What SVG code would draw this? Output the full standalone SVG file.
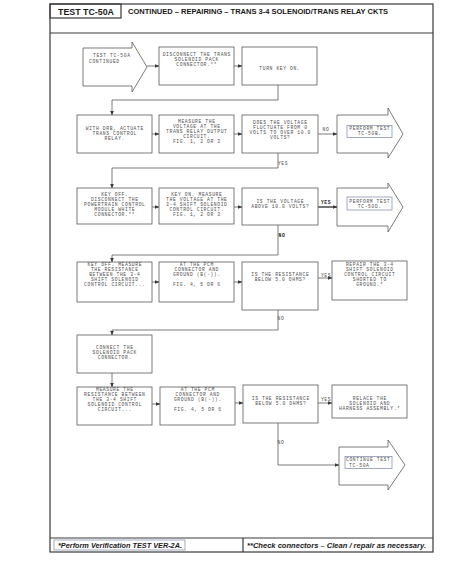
<svg xmlns="http://www.w3.org/2000/svg" width="467" height="570" viewBox="0 0 467 570">
<style>
.frame{fill:none;stroke:#3a3a3a;stroke-width:1.2}
.box{fill:#fff;stroke:#5a5a5a;stroke-width:0.8}
.arr{fill:#fff;stroke:#5a5a5a;stroke-width:0.8}
.hl{fill:none;stroke:#7d86a6;stroke-width:0.7}
.t{font-family:"Liberation Mono","DejaVu Sans Mono",monospace;font-size:4.7px;letter-spacing:0.6px;fill:#505050;text-anchor:middle}
.ts{font-family:"Liberation Mono","DejaVu Sans Mono",monospace;font-size:4.7px;letter-spacing:0.6px;fill:#505050}
.lbl{font-family:"Liberation Mono","DejaVu Sans Mono",monospace;font-size:4.7px;letter-spacing:0.6px;fill:#505050;text-anchor:middle}
.lblb{font-family:"Liberation Mono","DejaVu Sans Mono",monospace;font-size:4.7px;letter-spacing:0.6px;fill:#222;font-weight:bold;text-anchor:middle}
.hd{font-family:"Liberation Sans",Arial,sans-serif;font-weight:bold;fill:#1a1a1a}
.ft{font-family:"Liberation Sans",Arial,sans-serif;font-weight:bold;font-style:italic;font-size:7px;fill:#1a1a1a}
.c{fill:none;stroke:#5a5a5a;stroke-width:0.8;marker-end:url(#ah)}
.cb{fill:none;stroke:#2a2a2a;stroke-width:1.3;marker-end:url(#ah)}
</style>
<defs>
<marker id="ah" markerWidth="5" markerHeight="4" refX="4.5" refY="2" orient="auto" markerUnits="userSpaceOnUse">
<path d="M0,0 L5,2 L0,4 Z" fill="#3a3a3a"/>
</marker>
</defs>
<rect width="467" height="570" fill="#fff"/>

<g id="frame">
<rect class="frame" x="50" y="4" width="383" height="548"/>
<rect class="frame" x="50" y="4" width="71" height="14"/>
<line class="frame" x1="50" y1="33" x2="433" y2="33"/>
<line class="frame" x1="50" y1="538" x2="433" y2="538"/>
<line class="frame" x1="243" y1="538" x2="243" y2="552"/>
<text class="hd" x="58" y="15" font-size="9" textLength="56" lengthAdjust="spacingAndGlyphs">TEST TC-50A</text>
<text class="hd" x="128" y="13.5" font-size="7" textLength="260" lengthAdjust="spacingAndGlyphs">CONTINUED – REPAIRING – TRANS 3-4 SOLENOID/TRANS RELAY CKTS</text>
<rect class="hl" x="54" y="540" width="131" height="10"/>
<text class="ft" x="58" y="548" textLength="124" lengthAdjust="spacingAndGlyphs">*Perform Verification TEST VER-2A.</text>
<text class="ft" x="247" y="548" textLength="179" lengthAdjust="spacingAndGlyphs">**Check connectors – Clean / repair as necessary.</text>
</g>

<g id="connectors">
<line class="c" x1="147" y1="66" x2="159" y2="66"/>
<line class="c" x1="234" y1="66" x2="242" y2="66"/>
<polyline class="c" points="278,85 278,100 112,100 112,115"/>
<line class="c" x1="152" y1="134" x2="159" y2="134"/>
<line class="c" x1="234" y1="134" x2="242" y2="134"/>
<line class="c" x1="318" y1="134" x2="337" y2="134"/>
<polyline class="c" points="278,153 278,168 112,168 112,188"/>
<line class="c" x1="152" y1="207" x2="159" y2="207"/>
<line class="c" x1="234" y1="207" x2="242" y2="207"/>
<line class="cb" x1="318" y1="207" x2="337" y2="207"/>
<polyline class="c" points="278,225 278,255 112,255 112,262"/>
<line class="c" x1="152" y1="282" x2="159" y2="282"/>
<line class="c" x1="234" y1="282" x2="242" y2="282"/>
<line class="c" x1="318" y1="278" x2="332" y2="278"/>
<polyline class="c" points="278,310 278,330 112,330 112,335"/>
<line class="c" x1="112" y1="373" x2="112" y2="387"/>
<line class="c" x1="152" y1="404" x2="160" y2="404"/>
<line class="c" x1="235" y1="403" x2="243" y2="403"/>
<line class="c" x1="318" y1="403" x2="332" y2="403"/>
<polyline class="c" points="278,423 278,465 339,465"/>
<text class="lbl" x="326" y="131">NO</text>
<text class="lbl" x="283" y="165">YES</text>
<text class="lblb" x="326" y="204">YES</text>
<text class="lblb" x="282" y="237">NO</text>
<text class="lbl" x="326" y="277">YES</text>
<text class="lbl" x="281" y="320">NO</text>
<text class="lbl" x="326" y="401">YES</text>
<text class="lbl" x="281" y="444">NO</text>
</g>

<g id="n-start">
<polygon class="arr" points="83,48 132,48 132,42 147,67 132,92 132,86 83,86"/>
<text class="ts" x="93" y="56.5">TEST TC-50A</text>
<text class="ts" x="89" y="62.5">CONTINUED</text>
</g>
<g id="n-disconnect">
<rect class="box" x="159" y="47" width="75" height="38"/>
<text class="t" x="196.8" y="56.1">DISCONNECT THE TRANS</text>
<text class="t" x="196.8" y="61.1">SOLENOID PACK</text>
<text class="t" x="196.8" y="66.1">CONNECTOR.**</text>
</g>
<g id="n-keyon">
<rect class="box" x="242" y="47" width="75" height="38"/>
<text class="t" x="279.8" y="69.5">TURN KEY ON.</text>
</g>

<g id="n-actuate">
<rect class="box" x="77" y="115" width="75" height="38"/>
<text class="t" x="114.8" y="130.1">WITH DRB, ACTUATE</text>
<text class="t" x="114.8" y="135.1">TRANS CONTROL</text>
<text class="t" x="114.8" y="140.1">RELAY.</text>
</g>
<g id="n-measure1">
<rect class="box" x="159" y="115" width="75" height="38"/>
<text class="t" x="196.8" y="123.4">MEASURE THE</text>
<text class="t" x="196.8" y="128.4">VOLTAGE AT THE</text>
<text class="t" x="196.8" y="133.4">TRANS RELAY OUTPUT</text>
<text class="t" x="196.8" y="138.4">CIRCUIT.</text>
<text class="t" x="196.8" y="143.4">FIG. 1, 2 OR 3</text>
</g>
<g id="n-fluct">
<rect class="box" x="242" y="115" width="76" height="38"/>
<text class="t" x="280.3" y="123.8">DOES THE VOLTAGE</text>
<text class="t" x="280.3" y="128.8">FLUCTUATE FROM 0</text>
<text class="t" x="280.3" y="133.8">VOLTS TO OVER 10.0</text>
<text class="t" x="280.3" y="138.8">VOLTS?</text>
</g>
<g id="n-tc50b">
<polygon class="arr" points="337,115 388,115 388,108 403,134 388,158 388,153 337,153"/>
<rect class="hl" x="347" y="125.5" width="45" height="12"/>
<text class="t" x="369.8" y="130.4">PERFORM TEST</text>
<text class="t" x="369.8" y="135.4">TC-50B.</text>
</g>

<g id="n-keyoff1">
<rect class="box" x="77" y="188" width="75" height="36"/>
<text class="t" x="114.8" y="195.6">KEY OFF.</text>
<text class="t" x="114.8" y="200.6">DISCONNECT THE</text>
<text class="t" x="114.8" y="205.6">POWERTRAIN CONTROL</text>
<text class="t" x="114.8" y="210.6">MODULE WHITE</text>
<text class="t" x="114.8" y="215.6">CONNECTOR.**</text>
</g>
<g id="n-measure2">
<rect class="box" x="159" y="188" width="75" height="36"/>
<text class="t" x="196.8" y="195.6">KEY ON. MEASURE</text>
<text class="t" x="196.8" y="200.6">THE VOLTAGE AT THE</text>
<text class="t" x="196.8" y="205.6">3-4 SHIFT SOLENOID</text>
<text class="t" x="196.8" y="210.6">CONTROL CIRCUIT.</text>
<text class="t" x="196.8" y="215.6">FIG. 1, 2 OR 3</text>
</g>
<g id="n-above10">
<rect class="box" x="242" y="188" width="76" height="37"/>
<text class="t" x="280.3" y="203">IS THE VOLTAGE</text>
<text class="t" x="280.3" y="208">ABOVE 10.0 VOLTS?</text>
</g>
<g id="n-tc50d">
<polygon class="arr" points="337,188 388,188 388,183 403,207 388,232 388,226 337,226"/>
<rect class="hl" x="347" y="197" width="45" height="13"/>
<text class="t" x="369.8" y="202.9">PERFORM TEST</text>
<text class="t" x="369.8" y="207.9">TC-50D.</text>
</g>

<g id="n-keyoff2">
<rect class="box" x="77" y="262" width="75" height="40"/>
<text class="t" x="114.8" y="265.8">KEY OFF. MEASURE</text>
<text class="t" x="114.8" y="270.8">THE RESISTANCE</text>
<text class="t" x="114.8" y="275.8">BETWEEN THE 3-4</text>
<text class="t" x="114.8" y="280.8">SHIFT SOLENOID</text>
<text class="t" x="114.8" y="285.8">CONTROL CIRCUIT...</text>
</g>
<g id="n-pcm1">
<rect class="box" x="159" y="262" width="75" height="40"/>
<text class="t" x="196.8" y="265.8">AT THE PCM</text>
<text class="t" x="196.8" y="270.8">CONNECTOR AND</text>
<text class="t" x="196.8" y="275.8">GROUND (B(-)).</text>
<text class="t" x="196.8" y="285.8">FIG. 4, 5 OR 6</text>
</g>
<g id="n-below1">
<rect class="box" x="242" y="262" width="76" height="48"/>
<text class="t" x="280.3" y="276.3">IS THE RESISTANCE</text>
<text class="t" x="280.3" y="281.3">BELOW 5.0 OHMS?</text>
</g>
<g id="n-repair">
<rect class="box" x="332" y="261" width="75" height="39"/>
<text class="t" x="369.8" y="265.6">REPAIR THE 3-4</text>
<text class="t" x="369.8" y="270.6">SHIFT SOLENOID</text>
<text class="t" x="369.8" y="275.6">CONTROL CIRCUIT</text>
<text class="t" x="369.8" y="280.6">SHORTED TO</text>
<text class="t" x="369.8" y="285.6">GROUND.*</text>
</g>

<g id="n-connect">
<rect class="box" x="77" y="335" width="75" height="38"/>
<text class="t" x="114.8" y="349.4">CONNECT THE</text>
<text class="t" x="114.8" y="354.4">SOLENOID PACK</text>
<text class="t" x="114.8" y="359.4">CONNECTOR.</text>
</g>

<g id="n-measure3">
<rect class="box" x="77" y="387" width="75" height="38"/>
<text class="t" x="114.8" y="390.7">MEASURE THE</text>
<text class="t" x="114.8" y="395.7">RESISTANCE BETWEEN</text>
<text class="t" x="114.8" y="400.7">THE 3-4 SHIFT</text>
<text class="t" x="114.8" y="405.7">SOLENOID CONTROL</text>
<text class="t" x="114.8" y="410.7">CIRCUIT...</text>
</g>
<g id="n-pcm2">
<rect class="box" x="160" y="387" width="75" height="38"/>
<text class="t" x="197.8" y="390.7">AT THE PCM</text>
<text class="t" x="197.8" y="395.7">CONNECTOR AND</text>
<text class="t" x="197.8" y="400.7">GROUND (B(-)).</text>
<text class="t" x="197.8" y="410.7">FIG. 4, 5 OR 6</text>
</g>
<g id="n-below2">
<rect class="box" x="243" y="385" width="75" height="38"/>
<text class="t" x="280.8" y="400.3">IS THE RESISTANCE</text>
<text class="t" x="280.8" y="405.3">BELOW 5.0 OHMS?</text>
</g>
<g id="n-replace">
<rect class="box" x="332" y="385" width="75" height="33"/>
<text class="t" x="369.8" y="399.9">RELACE THE</text>
<text class="t" x="369.8" y="404.9">SOLENOID AND</text>
<text class="t" x="369.8" y="409.9">HARNESS ASSEMBLY.*</text>
</g>

<g id="n-continue">
<polygon class="arr" points="339,447 388,447 388,440 405,465 388,490 388,485 339,485"/>
<rect class="hl" x="345" y="456.5" width="47" height="12"/>
<text class="ts" x="346" y="461">CONTINUE TEST</text>
<text class="ts" x="349" y="466.6">TC-50A</text>
</g>
</svg>
